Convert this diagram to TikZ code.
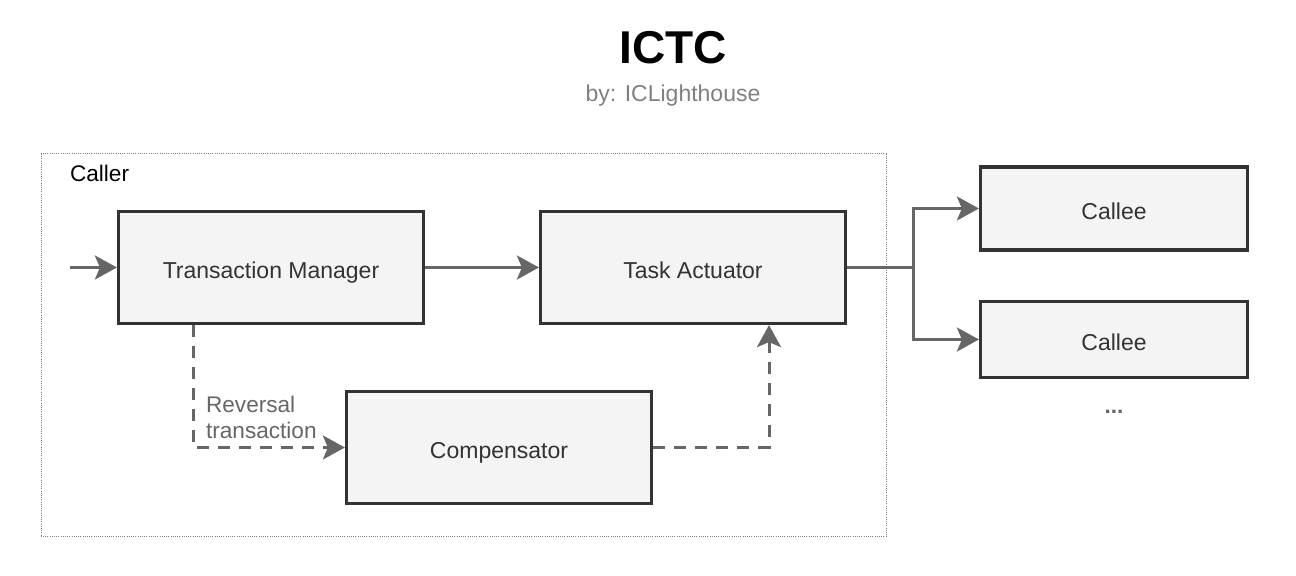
\documentclass[tikz,border=0pt]{standalone}
\usepackage{fontspec}
\setmainfont{Liberation Sans}
\usetikzlibrary{shapes,arrows,positioning}
\usetikzlibrary{arrows.meta}

\definecolor{boxfill}{HTML}{F4F4F4}
\definecolor{boxline}{HTML}{333333}
\definecolor{wire}{HTML}{666666}
\definecolor{subgray}{HTML}{808080}

\begin{document}
\begin{tikzpicture}[x=0.5pt,y=-0.5pt,
    block/.style={draw=boxline, line width=1.6pt, fill=boxfill, text=boxline,
                  font=\fontsize{11.5}{13}\selectfont, inner sep=0pt,
                  text height=11.5pt, text depth=0pt},
    flow/.style={draw=wire, line width=1.5pt, -{Stealth[length=11pt,width=12pt,inset=2.5pt]}},
    dashflow/.style={flow, dash pattern=on 6pt off 4.5pt},
    wireline/.style={draw=wire, line width=1.5pt}
]
\useasboundingbox (0,0) rectangle (1296,576);

% Title
\node (title) at (673,48) {\fontsize{23}{27}\selectfont\bfseries ICTC};
\node[text=subgray] (byline) at (673,96) {\fontsize{11.5}{13}\selectfont by: ICLighthouse};

% Caller container
\draw[subgray, line width=0.5pt, dash pattern=on 0.5pt off 0.6pt] (41,154) rectangle (886,537);
\node[anchor=west, font=\fontsize{11.3}{13}\selectfont] (caller) at (63,173) {Caller};

% Boxes
\node[block, minimum width=152.5pt, minimum height=56pt] (tm) at (271,267.5) {Transaction Manager};
\node[block, minimum width=152.5pt, minimum height=56pt] (ta) at (693,267.5) {Task Actuator};
\node[block, minimum width=152.5pt, minimum height=56pt] (comp) at (499,447.5) {Compensator};
\node[block, minimum width=133.5pt, minimum height=41.5pt] (callee1) at (1114,208.5) {Callee};
\node[block, minimum width=133.5pt, minimum height=38pt] (callee2) at (1114,339.5) {Callee};
\node[text=wire, font=\fontsize{11.3}{13}\selectfont\bfseries] (more) at (1114,412) {...};

% Connectors
\coordinate (entry) at (70,267.5);
\coordinate (split) at (913,267.5);
\draw[flow] (entry) -- (tm);
\draw[flow] (tm) -- (ta);
\draw[wireline] (ta) -- (split);
\draw[flow] (split) |- (callee1);
\draw[flow] (split) |- (callee2);

% Reversal path
\draw[dashflow] ([xshift=-39pt]tm.south) |- (comp);
\draw[dashflow] (comp.east) -| ([xshift=38pt]ta.south);
\node[anchor=west, align=left, text=wire, font=\fontsize{11.3}{13}\selectfont] (rev) at (199,417) {Reversal\\transaction};

\end{tikzpicture}
\end{document}
